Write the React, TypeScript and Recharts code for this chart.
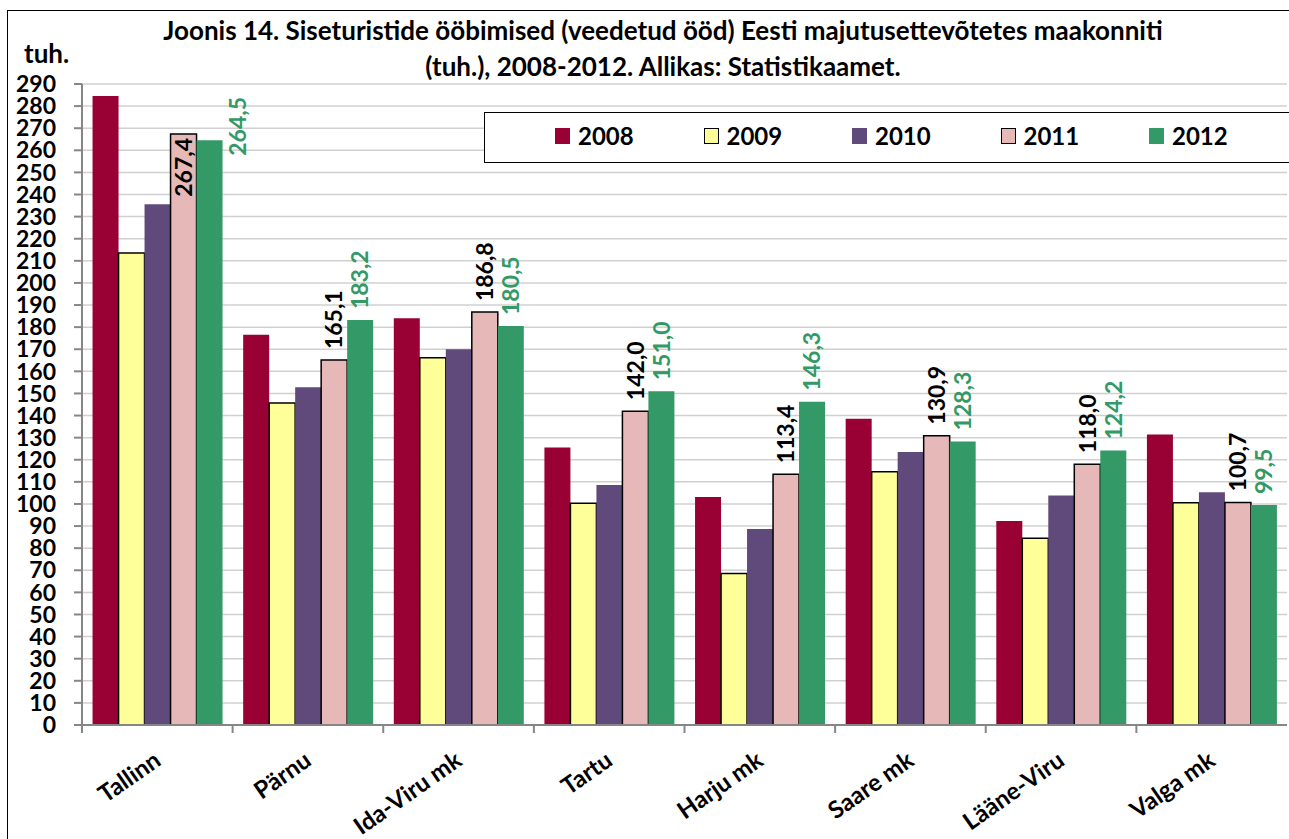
import { BarChart, Bar, XAxis, YAxis, CartesianGrid, Legend, LabelList } from "recharts";

const categories = ["Tallinn", "Pärnu", "Ida-Viru mk", "Tartu", "Harju mk", "Saare mk", "Lääne-Viru", "Valga mk"];
const v2008 = [284.6, 176.6, 184.0, 125.6, 103.1, 138.6, 92.3, 131.4];
const v2009 = [213.5, 145.7, 166.2, 100.3, 68.5, 114.6, 84.5, 100.6];
const v2010 = [235.6, 152.8, 170.0, 108.6, 88.7, 123.5, 103.8, 105.3];
const v2011 = [267.4, 165.1, 186.8, 142.0, 113.4, 130.9, 118.0, 100.7];
const v2012 = [264.5, 183.2, 180.5, 151.0, 146.3, 128.3, 124.2, 99.5];
const yTicks = [0, 10, 20, 30, 40, 50, 60, 70, 80, 90, 100, 110, 120, 130, 140, 150, 160, 170, 180, 190, 200, 210, 220, 230, 240, 250, 260, 270, 280, 290];

const series = [
  { key: "2008", fill: "#990033", stroke: "none" },
  { key: "2009", fill: "#FFFF99", stroke: "#000" },
  { key: "2010", fill: "#604A7B", stroke: "none" },
  { key: "2011", fill: "#E6B9B8", stroke: "#000" },
  { key: "2012", fill: "#339966", stroke: "none" },
];

const data = categories.map((name, i) => ({
  name,
  "2008": v2008[i],
  "2009": v2009[i],
  "2010": v2010[i],
  "2011": v2011[i],
  "2012": v2012[i],
}));

const FONT = "Lato, 'Open Sans', sans-serif";
const W = 1289;
const H = 839;
const PLOT_TOP = 84;
const PLOT_LEFT = 82;
const PLOT_RIGHT = 1287;
const STEP = (PLOT_RIGHT - PLOT_LEFT) / categories.length;
const LABEL_LEN = 62;
const LABEL_GAP = 11;

const fmt = (v: number) => v.toFixed(1).replace(".", ",");

function valueLabel(color: string, outside: "inside" | "right") {
  return (props: any) => {
    const top = Number(props.y);
    const cx = Number(props.x) + Number(props.width) / 2;
    const fits = top - LABEL_GAP - LABEL_LEN >= PLOT_TOP;
    let x = cx;
    let y = top - LABEL_GAP;
    let anchor: "start" | "end" = "start";
    if (!fits) {
      anchor = "end";
      if (outside === "inside") {
        y = top + 4;
      } else {
        x = cx + 28;
        y = PLOT_TOP + 13;
      }
    }
    return (
      <text
        x={x}
        y={y}
        dy="0.36em"
        transform={`rotate(-90, ${x}, ${y})`}
        textAnchor={anchor}
        fill={color}
        fontSize={23}
        fontWeight="bold"
        fontFamily={FONT}
      >
        {fmt(Number(props.value))}
      </text>
    );
  };
}

function CategoryTick(props: any) {
  const { x, y, payload } = props;
  const ax = x - STEP / 2;
  const tx = x + 5;
  const ty = y + 39;
  return (
    <g>
      <line x1={ax} y1={y} x2={ax} y2={y + 8} stroke="#868686" strokeWidth={2} />
      <text
        x={tx}
        y={ty}
        transform={`rotate(-35, ${tx}, ${ty})`}
        textAnchor="end"
        fontSize={24}
        fontWeight="bold"
        fontFamily={FONT}
        fill="#000"
      >
        {payload.value}
      </text>
    </g>
  );
}

function LegendBox(props: any) {
  const items = props.payload || [];
  return (
    <div
      style={{
        boxSizing: "border-box",
        width: "100%",
        height: "100%",
        background: "#fff",
        border: "1.5px solid #000",
        position: "relative",
        fontFamily: FONT,
      }}
    >
      {items.map((it: any, i: number) => {
        const s = series.find((d) => d.key === it.value)!;
        return (
          <div
            key={it.value}
            style={{
              position: "absolute",
              left: 70 + i * 148.5,
              top: 8,
              display: "flex",
              alignItems: "center",
              fontSize: 24,
              fontWeight: "bold",
            }}
          >
            <span
              style={{
                display: "inline-block",
                boxSizing: "border-box",
                width: 15,
                height: 16,
                background: s.fill,
                border: s.stroke === "none" ? "none" : "1px solid #000",
                marginRight: 8,
              }}
            />
            {it.value}
          </div>
        );
      })}
    </div>
  );
}

export default function App() {
  return (
    <div style={{ position: "absolute", left: 0, top: 0, width: W, height: H, background: "#fff", overflow: "hidden", fontFamily: FONT }}>
      <div style={{ position: "absolute", left: 7, top: 10, width: W + 10, height: H + 10, borderLeft: "1.5px solid #000", borderTop: "1.5px solid #000" }} />
      <BarChart
        width={W}
        height={H}
        data={data}
        margin={{ top: PLOT_TOP, left: 12, right: W - PLOT_RIGHT, bottom: 14 }}
        barCategoryGap="7%"
        barGap={0}
      >
        <CartesianGrid vertical={false} stroke="#D0D0D0" strokeWidth={1.5} />
        <XAxis
          dataKey="name"
          height={100}
          axisLine={{ stroke: "#868686", strokeWidth: 2 }}
          tickLine={false}
          tickSize={0}
          tickMargin={0}
          interval={0}
          tick={<CategoryTick />}
        />
        <YAxis
          width={70}
          domain={[0, 290]}
          ticks={yTicks}
          interval={0}
          axisLine={{ stroke: "#868686", strokeWidth: 2 }}
          tickLine={{ stroke: "#868686", strokeWidth: 2 }}
          tickSize={8}
          tickMargin={18}
          tick={{ fill: "#000", fontSize: 23, fontWeight: "bold", fontFamily: FONT }}
        />
        <Legend
          layout="horizontal"
          verticalAlign="middle"
          align="center"
          content={<LegendBox />}
          wrapperStyle={{ left: 484, top: 112, width: 820, height: 51, right: "auto", bottom: "auto" }}
        />
        {series.map((s) => (
          <Bar
            key={s.key}
            dataKey={s.key}
            fill={s.fill}
            stroke={s.stroke}
            strokeWidth={s.stroke === "none" ? 0 : 1.5}
            isAnimationActive={false}
          >
            {s.key === "2011" && <LabelList dataKey="2011" content={valueLabel("#000", "inside")} />}
            {s.key === "2012" && <LabelList dataKey="2012" content={valueLabel("#339966", "right")} />}
          </Bar>
        ))}
      </BarChart>
      <div style={{ position: "absolute", left: 0, width: 1326, top: 14, textAlign: "center", fontSize: 26, fontWeight: "bold", lineHeight: "32px" }}>
        Joonis 14. Siseturistide ööbimised (veedetud ööd) Eesti majutusettevõtetes maakonniti
      </div>
      <div style={{ position: "absolute", left: 0, width: 1326, top: 50, textAlign: "center", fontSize: 26, fontWeight: "bold", lineHeight: "32px" }}>
        (tuh.), 2008-2012. Allikas: Statistikaamet.
      </div>
      <div style={{ position: "absolute", left: 24, top: 37, fontSize: 26, fontWeight: "bold" }}>tuh.</div>
    </div>
  );
}
